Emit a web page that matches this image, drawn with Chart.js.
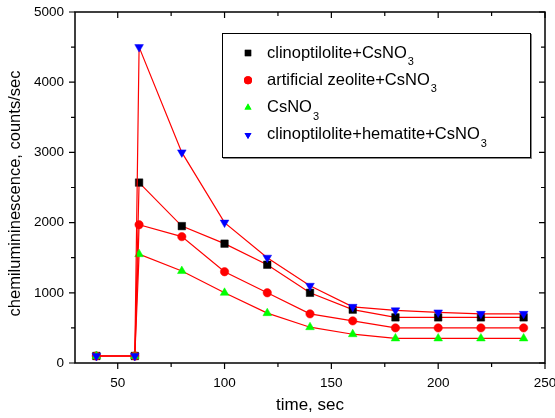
<!DOCTYPE html>
<html>
<head>
<meta charset="utf-8">
<script src="https://cdn.jsdelivr.net/npm/chart.js@4"></script>
<style>
  body { margin: 0; background: #fff; }
  canvas { display: block; }
</style>
</head>
<body>
<canvas id="myChart" width="555" height="418"></canvas>
<script>
const times = [40, 58, 60, 80, 100, 120, 140, 160, 180, 200, 220, 240];
const clinoCs = [100, 100, 2570, 1950, 1700, 1400, 1000, 760, 650, 650, 650, 650];
const zeoliteCs = [100, 100, 1970, 1800, 1300, 1000, 700, 600, 500, 500, 500, 500];
const csOnly = [100, 100, 1550, 1310, 1000, 710, 510, 410, 350, 350, 350, 350];
const clinoHemCs = [100, 100, 4500, 3000, 2000, 1500, 1100, 800, 750, 720, 700, 700];
const xTicks = [50, 100, 150, 200, 250];
const yTicks = [0, 1000, 2000, 3000, 4000, 5000];

const FONT = "Liberation Sans, Arial, sans-serif";

function pts(ys) {
  return times.map((t, i) => ({ x: t, y: ys[i] }));
}

const legendItems = [
  { name: "clinoptilolite+CsNO", style: "rect", color: "#000000", rot: 0 },
  { name: "artificial zeolite+CsNO", style: "circle", color: "#ff0000", rot: 0 },
  { name: "CsNO", style: "triangle", color: "#00ff00", rot: 0 },
  { name: "clinoptilolite+hematite+CsNO", style: "triangle", color: "#0000ff", rot: 180 },
];

const framePlugin = {
  id: "frame",
  afterDraw(chart) {
    const ctx = chart.ctx;
    const a = chart.chartArea;
    const xs = chart.scales.x, ys = chart.scales.y;
    ctx.save();
    ctx.strokeStyle = "#000";
    ctx.lineWidth = 1.5;
    ctx.strokeRect(a.left, a.top, a.right - a.left, a.bottom - a.top);
    ctx.lineWidth = 1.2;
    ctx.beginPath();
    for (let v = 50; v <= 250; v += 25) {
      const major = v % 50 === 0;
      const len = major ? 6 : 4;
      const px = xs.getPixelForValue(v);
      ctx.moveTo(px, a.bottom); ctx.lineTo(px, a.bottom + len);
      ctx.moveTo(px, a.top); ctx.lineTo(px, a.top + len);
    }
    for (let v = 0; v <= 5000; v += 500) {
      const major = v % 1000 === 0;
      const len = major ? 6 : 4;
      const py = ys.getPixelForValue(v);
      ctx.moveTo(a.left, py); ctx.lineTo(a.left - len, py);
      ctx.moveTo(a.right, py); ctx.lineTo(a.right - len, py);
    }
    ctx.stroke();

    // axis titles
    ctx.fillStyle = "#000";
    ctx.font = "17px " + FONT;
    ctx.textAlign = "center";
    ctx.textBaseline = "middle";
    ctx.fillText("time, sec", (a.left + a.right) / 2, 405);
    ctx.save();
    ctx.translate(15, (a.top + a.bottom) / 2 + 6);
    ctx.rotate(-Math.PI / 2);
    ctx.font = "16.5px " + FONT;
    ctx.fillText("chemilumininescence, counts/sec", 0, 0);
    ctx.restore();

    // legend
    const bx = 222, by = 33, bw = 308, bh = 124;
    ctx.fillStyle = "#fff";
    ctx.fillRect(bx, by, bw, bh);
    ctx.strokeStyle = "#888";
    ctx.lineWidth = 2;
    ctx.beginPath();
    ctx.moveTo(bx + 1, by + bh + 1); ctx.lineTo(bx + bw + 1, by + bh + 1); ctx.lineTo(bx + bw + 1, by + 1);
    ctx.stroke();
    ctx.strokeStyle = "#000";
    ctx.lineWidth = 1;
    ctx.strokeRect(bx + 0.5, by + 0.5, bw, bh);
    legendItems.forEach((it, i) => {
      const y = 53 + i * 27.3;
      ctx.fillStyle = it.color;
      Chart.helpers.drawPoint(ctx, { pointStyle: it.style, radius: it.style === "rect" ? 4.5 : 4, rotation: it.rot, borderWidth: 0 }, 248, y);
      ctx.fill();
      ctx.fillStyle = "#000";
      ctx.font = "16.5px " + FONT;
      ctx.textAlign = "left";
      ctx.textBaseline = "middle";
      ctx.fillText(it.name, 267, y);
      const w = ctx.measureText(it.name).width;
      ctx.font = "11px " + FONT;
      ctx.fillText("3", 267 + w + 1, y + 9);
    });
    ctx.restore();
  }
};

function ds(label, ys, style, color, radius, rot, order) {
  return {
    label: label,
    data: pts(ys),
    showLine: true,
    borderColor: "#ff0000",
    borderWidth: 1.2,
    pointStyle: style,
    pointRadius: radius,
    pointRotation: rot,
    pointBackgroundColor: color,
    pointBorderColor: color,
    pointBorderWidth: 0.5,
    order: order,
  };
}

const ctx = document.getElementById("myChart");
new Chart(ctx, {
  type: "scatter",
  data: {
    datasets: [
      ds("clinoptilolite+CsNO3", clinoCs, "rect", "#000000", 5.3, 0, 4),
      ds("artificial zeolite+CsNO3", zeoliteCs, "circle", "#ff0000", 4.2, 0, 3),
      ds("CsNO3", csOnly, "triangle", "#00ff00", 5, 0, 2),
      ds("clinoptilolite+hematite+CsNO3", clinoHemCs, "triangle", "#0000ff", 5, 180, 1),
    ],
  },
  options: {
    responsive: false,
    animation: false,
    layout: { padding: { top: 12, right: 10, left: 0, bottom: 0 } },
    plugins: { legend: { display: false }, tooltip: { enabled: false } },
    scales: {
      x: {
        type: "linear",
        min: 30,
        max: 250,
        grid: { display: false, drawTicks: false },
        border: { display: false },
        afterBuildTicks(s) { s.ticks = xTicks.map(v => ({ value: v })); },
        afterFit(s) { s.height = 55; s.paddingLeft = 0; s.paddingRight = 0; },
        ticks: { padding: 12, color: "#000", font: { family: FONT, size: 13.5 }, maxRotation: 0, callback: v => String(v) },
      },
      y: {
        min: 0,
        max: 5000,
        grid: { display: false, drawTicks: false },
        border: { display: false },
        afterBuildTicks(s) { s.ticks = yTicks.map(v => ({ value: v })); },
        afterFit(s) { s.width = 75; s.paddingTop = 0; s.paddingBottom = 0; },
        ticks: { padding: 11, color: "#000", font: { family: FONT, size: 13.5 }, callback: v => String(v) },
      },
    },
  },
  plugins: [framePlugin],
});
</script>
</body>
</html>
